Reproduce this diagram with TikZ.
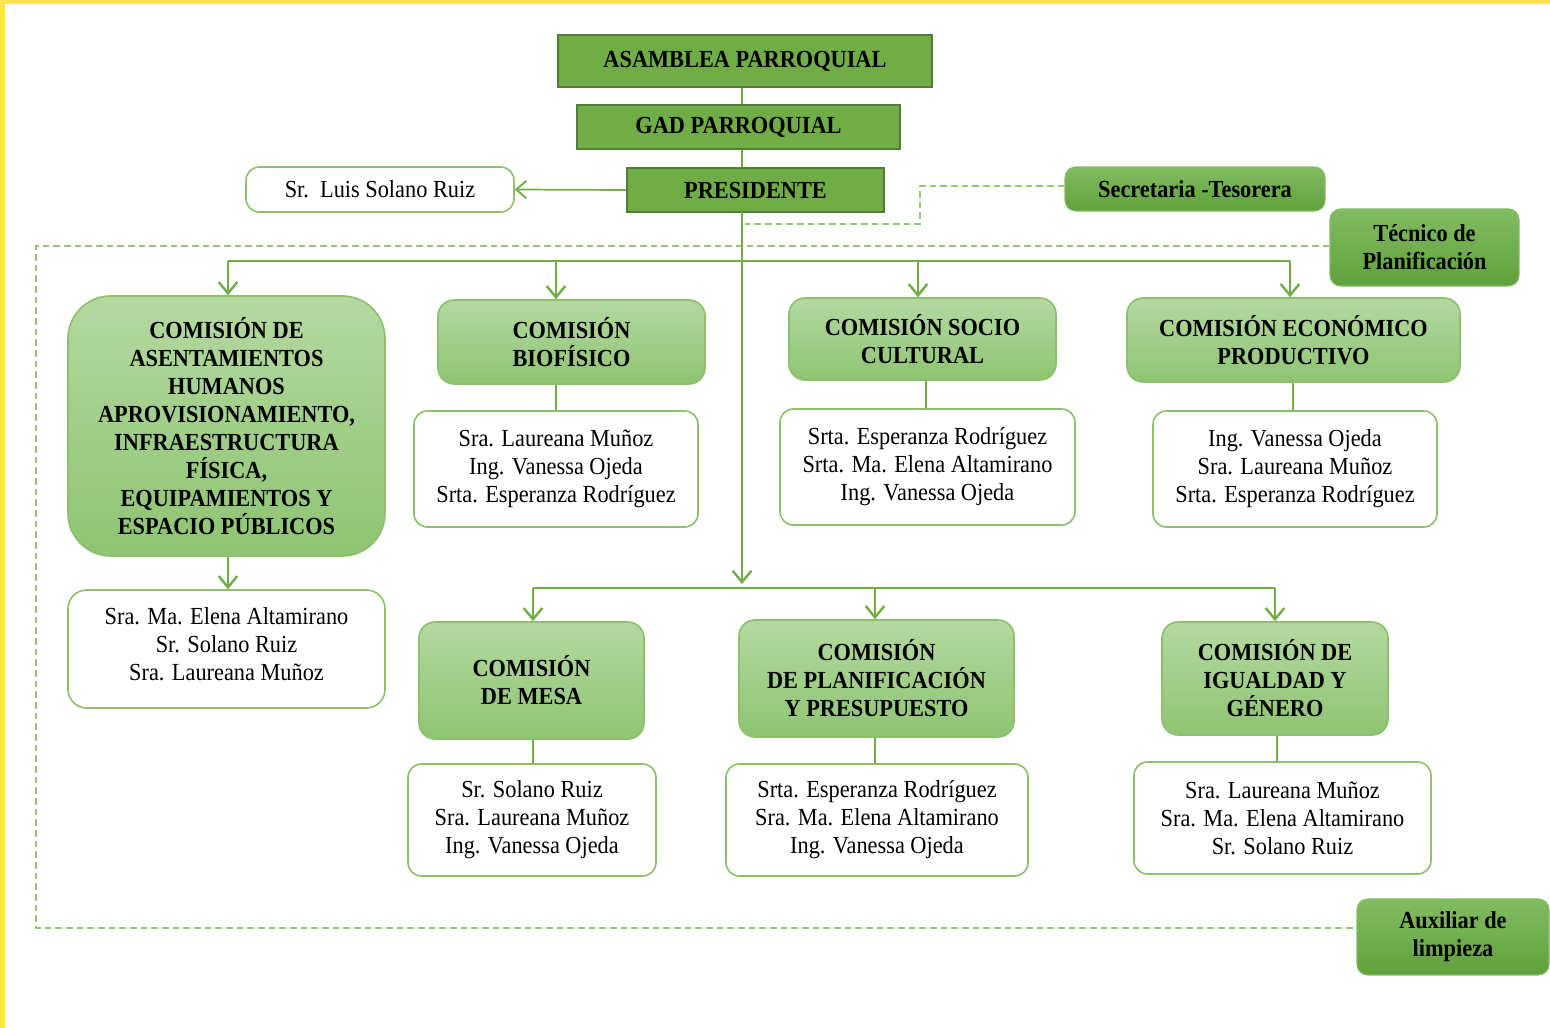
\documentclass[tikz,border=0pt]{standalone}
\usepackage{fontspec}
\setmainfont{Liberation Serif}[FakeStretch=0.91]
\usetikzlibrary{arrows.meta}
\definecolor{gmain}{HTML}{70AD47}
\definecolor{gdark}{HTML}{507E32}
\definecolor{gline}{HTML}{70AD47}
\definecolor{gborder}{HTML}{8CC06C}
\definecolor{ctop}{HTML}{B4D9A1}
\definecolor{cbot}{HTML}{8EC472}
\definecolor{stafftop}{HTML}{82BC62}
\definecolor{staffbot}{HTML}{5FA13A}
\definecolor{gdash}{HTML}{93C774}
\definecolor{ybar}{HTML}{FFE54A}
\tikzset{
  span/.style n args={4}{minimum width={(#3-#1)*0.75pt}, minimum height={(#4-#2)*0.75pt}, at={({(#1+#3)/2},{(#2+#4)/2})}},
  txt/.style={font=\fontsize{18.4pt}{21pt}\selectfont, align=center, text=black, inner sep=0pt, anchor=center},
  btxt/.style={txt, font=\fontsize{18.4pt}{21pt}\selectfont\bfseries},
  mainbox/.style={btxt, fill=gmain, draw=gdark, line width=1pt},
  commbox/.style={btxt, top color=ctop, bottom color=cbot, draw=gborder, line width=1.2pt, rounded corners=12pt},
  membox/.style={txt, fill=white, draw=gborder, line width=1.2pt, rounded corners=10pt},
  staffbox/.style={btxt, top color=stafftop, bottom color=staffbot, draw=stafftop, line width=0.8pt, rounded corners=8pt},
  conn/.style={draw=gline, line width=2.2pt},
  arr/.style={conn, -{Straight Barb[length=8.5pt,width=14pt,line width=1.8pt]}},
  thinarr/.style={draw=gline, line width=1.3pt, -{Straight Barb[length=7.5pt,width=13pt,line width=1.4pt]}},
  thinconn/.style={draw=gline, line width=1.3pt},
  dashline/.style={draw=gdash, line width=1.5pt, dash pattern=on 5pt off 3pt},
}
\begin{document}
\begin{tikzpicture}[x=0.75pt,y=-0.75pt]
\useasboundingbox (0,0) rectangle (1550,1028);
\path[fill=white] (0,0) rectangle (1550,1028);
\path[fill=ybar] (0,0) rectangle (1550,4);
\path[fill=ybar] (0,0) rectangle (5,1028);

% top hierarchy
\node[mainbox, span={558}{35}{932}{87}] (asam) {ASAMBLEA PARROQUIAL};
\node[mainbox, span={577}{105}{900}{149}] (gad) {GAD PARROQUIAL};
\node[mainbox, span={627}{168}{884}{212}] (pres) {PRESIDENTE};
\node[membox, span={246}{167}{514}{212}] (luis) {Sr.\ \ Luis Solano Ruiz};
\node[staffbox, span={1065}{167}{1325}{211}] (sec) {Secretaria -Tesorera};
\node[staffbox, span={1330}{209}{1519}{286}] (tec) {Técnico de\\Planificación};
\node[staffbox, span={1357}{899}{1549}{975}] (aux) {Auxiliar de\\limpieza};

% commissions, row 1
\node[commbox, rounded corners=32pt, span={68}{296}{385}{556}] (c1) {COMISIÓN DE\\ASENTAMIENTOS\\HUMANOS\\APROVISIONAMIENTO,\\INFRAESTRUCTURA\\FÍSICA,\\EQUIPAMIENTOS Y\\ESPACIO PÚBLICOS};
\node[commbox, span={438}{300}{705}{384}] (c2) {COMISIÓN\\BIOFÍSICO};
\node[commbox, span={789}{298}{1056}{380}] (c3) {COMISIÓN SOCIO\\CULTURAL};
\node[commbox, span={1127}{298}{1460}{382}] (c4) {COMISIÓN ECONÓMICO\\PRODUCTIVO};

% members, row 1
\node[membox, rounded corners=14pt, text depth=7.5pt, span={68}{590}{385}{708}] (m1) {Sra. Ma. Elena Altamirano\\Sr. Solano Ruiz\\Sra. Laureana Muñoz};
\node[membox, span={414}{411}{698}{527}] (m2) {Sra. Laureana Muñoz\\Ing. Vanessa Ojeda\\Srta. Esperanza Rodríguez};
\node[membox, span={780}{409}{1075}{525}] (m3) {Srta. Esperanza Rodríguez\\Srta. Ma. Elena Altamirano\\Ing. Vanessa Ojeda};
\node[membox, span={1153}{411}{1437}{527}] (m4) {Ing. Vanessa Ojeda\\Sra. Laureana Muñoz\\Srta. Esperanza Rodríguez};

% commissions, row 2
\node[commbox, span={419}{622}{644}{739}] (c5) {COMISIÓN\\DE MESA};
\node[commbox, span={739}{620}{1014}{737}] (c6) {COMISIÓN\\DE PLANIFICACIÓN\\Y PRESUPUESTO};
\node[commbox, span={1162}{622}{1388}{735}] (c7) {COMISIÓN DE\\IGUALDAD Y\\GÉNERO};

% members, row 2
\node[membox, span={408}{764}{656}{876}] (m5) {Sr. Solano Ruiz\\Sra. Laureana Muñoz\\Ing. Vanessa Ojeda};
\node[membox, span={726}{764}{1028}{876}] (m6) {Srta. Esperanza Rodríguez\\Sra. Ma. Elena Altamirano\\Ing. Vanessa Ojeda};
\node[membox, span={1134}{762}{1431}{874}] (m7) {Sra. Laureana Muñoz\\Sra. Ma. Elena Altamirano\\Sr. Solano Ruiz};

% helper coordinates
\coordinate (t0) at (742,212);
\coordinate (tend) at (742,584);
\coordinate (b1) at (228,261);
\coordinate (b2) at (556,261);
\coordinate (b3) at (918,261);
\coordinate (b4) at (1290,261);
\coordinate (x3) at (926,0);
\coordinate (x4) at (1293,0);
\coordinate (l5) at (533,588);
\coordinate (l6) at (875,588);
\coordinate (l7) at (1275,588);
\coordinate (x7) at (1277,0);
\coordinate (s1) at (920,186);
\coordinate (s2) at (920,224);
\coordinate (s3) at (745,224);
\coordinate (d1) at (36,246);
\coordinate (d2) at (36,928);

% dashed staff links
\draw[dashline] (sec.west |- s1) -- (s1) -- (s2) -- (s3);
\draw[dashline] (tec.west |- d1) -- (d1) -- (d2) -- (d2 -| aux.west);

% hierarchy connectors
\draw[thinconn] (gad.north -| t0) -- (asam.south -| t0);
\draw[thinconn] (pres.north -| t0) -- (gad.south -| t0);
\draw[thinarr] (pres.west) -- (luis.east);
\draw[arr] (t0) -- (tend);

% top bar
\draw[conn] (b1) -- (b4);
\draw[arr] (b1) -- (b1 |- c1.north);
\draw[arr] (b2) -- (b2 |- c2.north);
\draw[arr] (b3) -- (b3 |- c3.north);
\draw[arr] (b4) -- (b4 |- c4.north);

% lower bar
\draw[conn] (l5) -- (l7);
\draw[arr] (l5) -- (l5 |- c5.north);
\draw[arr] (l6) -- (l6 |- c6.north);
\draw[arr] (l7) -- (l7 |- c7.north);

% commission to members
\draw[arr] (c1.south -| b1) -- (m1.north -| b1);
\draw[thinconn] (c2.south -| b2) -- (m2.north -| b2);
\draw[thinconn] (c3.south -| x3) -- (m3.north -| x3);
\draw[thinconn] (c4.south -| x4) -- (m4.north -| x4);
\draw[thinconn] (c5.south -| l5) -- (m5.north -| l5);
\draw[thinconn] (c6.south -| l6) -- (m6.north -| l6);
\draw[thinconn] (c7.south -| x7) -- (m7.north -| x7);
\end{tikzpicture}
\end{document}
